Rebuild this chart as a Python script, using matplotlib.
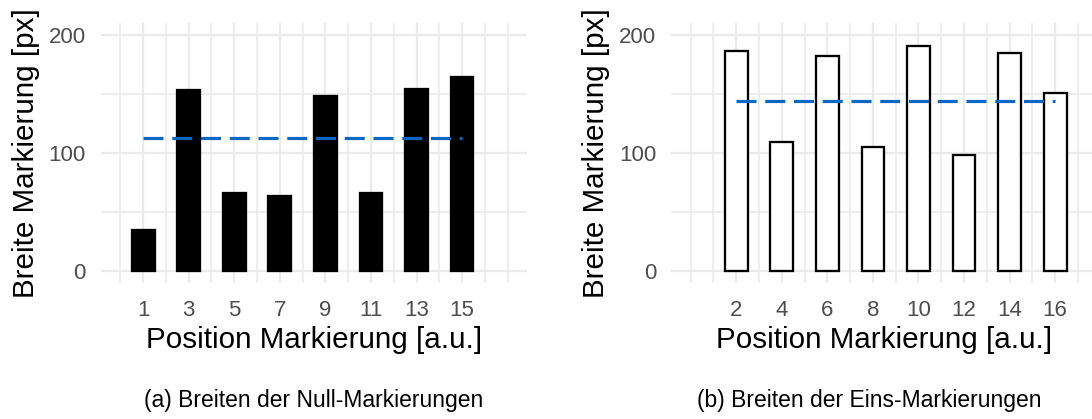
import numpy as np
import matplotlib
matplotlib.use("Agg")
import matplotlib.pyplot as plt

plt.rcParams['font.family'] = ['Liberation Sans', 'DejaVu Sans']
plt.rcParams['lines.scale_dashes'] = False

# Null-Markierungen (ungerade Positionen)
pos_null = [1, 3, 5, 7, 9, 11, 13, 15]
breite_null = [35, 153, 66, 64, 148, 66, 154, 164]
mittel_null = 113

# Eins-Markierungen (gerade Positionen)
pos_eins = [2, 4, 6, 8, 10, 12, 14, 16]
breite_eins = [186, 109, 182, 105, 190.5, 98, 184, 151]
mittel_eins = 144

W, H = 1092, 419
fig = plt.figure(figsize=(W / 100, H / 100), dpi=100)

def px_axes(left, top, width, height):
    return fig.add_axes([left / W, (H - top - height) / H, width / W, height / H])

ax1 = px_axes(101, 22.7, 426, 260.6)
ax2 = px_axes(671.3, 22.7, 426, 260.6)

grid_col = '#EBEBEB'

def style(ax, pos, werte, mittel, fill):
    ax.set_xlim(-0.85, 17.85)
    ax.set_ylim(-10, 210)
    for s in ax.spines.values():
        s.set_visible(False)
    # Gitter: alle ganzen Zahlen duenn, Haupt-Ticks dick
    for x in range(0, 18):
        lw = 1.6 if x in pos else 1.2
        ax.axvline(x, color=grid_col, lw=lw, zorder=0)
    for y in [0, 100, 200]:
        ax.axhline(y, color=grid_col, lw=1.6, zorder=0)
    for y in [50, 150]:
        ax.axhline(y, color=grid_col, lw=1.2, zorder=0)
    ax.bar(pos, werte, width=1.0, color=fill, edgecolor='black',
           linewidth=1.65, zorder=2)
    ax.hlines(mittel, pos[0], pos[-1], color='#0868C4', lw=2.3,
              linestyles=(0, (14.4, 6.3)), zorder=3)
    ax.set_xticks(pos)
    ax.set_yticks([0, 100, 200])
    ax.tick_params(length=0, labelsize=16, labelcolor='#4D4D4D')
    ax.tick_params(axis='x', pad=12)
    ax.tick_params(axis='y', pad=11)
    ax.set_xlabel('Position Markierung [a.u.]', fontsize=21.3, labelpad=3.5)
    ax.set_ylabel('Breite Markierung [px]', fontsize=21.3, labelpad=6)

style(ax1, pos_null, breite_null, mittel_null, 'black')
style(ax2, pos_eins, breite_eins, mittel_eins, 'white')

fig.text(313.4 / W, 1 - 406.7 / H, '(a) Breiten der Null-Markierungen',
         fontsize=16.5, ha='center', va='baseline')
fig.text(869.5 / W, 1 - 406.7 / H, '(b) Breiten der Eins-Markierungen',
         fontsize=16.5, ha='center', va='baseline')

fig.savefig('out.png', dpi=100)
